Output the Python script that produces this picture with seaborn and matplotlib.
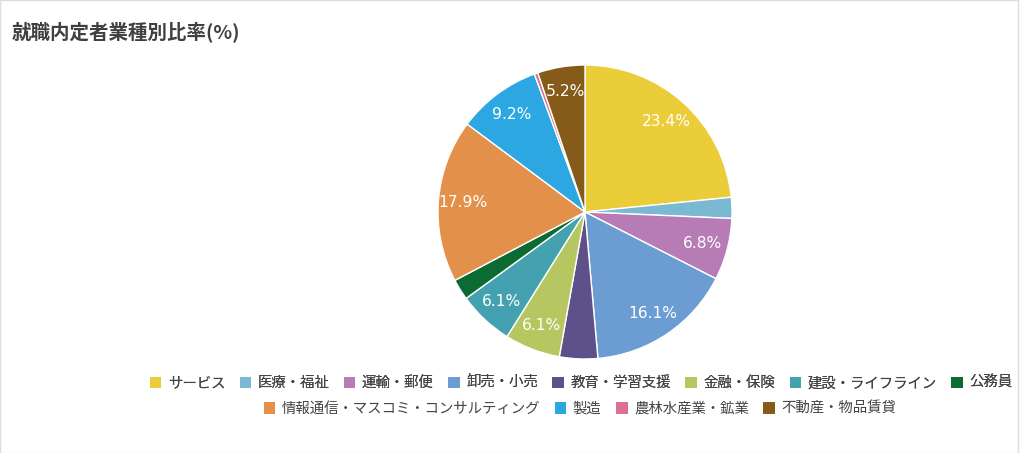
import matplotlib
matplotlib.use("Agg")
import matplotlib.pyplot as plt
import seaborn as sns
from matplotlib.patches import Patch

sns.set_theme(style="white")
plt.rcParams['font.family'] = ['Noto Sans CJK JP', 'DejaVu Sans']

categories = ["サービス", "医療・福祉", "運輸・郵便", "卸売・小売", "教育・学習支援", "金融・保険",
              "建設・ライフライン", "公務員", "情報通信・マスコミ・コンサルティング", "製造",
              "農林水産業・鉱業", "不動産・物品賃貸"]
values = [23.4, 2.3, 6.8, 16.1, 4.2, 6.1, 6.1, 2.3, 17.9, 9.2, 0.4, 5.2]
colors = ["#EBCD3A", "#7AB9D1", "#B77CB6", "#6B9CD2", "#5E5089", "#B6C660",
          "#44A1AF", "#0B6B32", "#E2904A", "#2CA7E1", "#DC7090", "#865A18"]

fig = plt.figure(figsize=(10.24, 4.53), dpi=100)
fig.patch.set_facecolor("white")

ax = fig.add_axes([438/1024, 94/453, 294/1024, 294/453])
wedges, texts, autotexts = ax.pie(
    values, colors=colors, startangle=90, counterclock=False,
    autopct=lambda p: f"{p:.1f}%" if p >= 5 else "", pctdistance=0.83,
    wedgeprops=dict(edgecolor="white", linewidth=1),
    textprops=dict(color="white", fontsize=11.2, family="DejaVu Sans"))
ax.set_xlim(-1, 1)
ax.set_ylim(-1, 1)
ax.set_aspect("equal")
ax.axis("off")

fig.text(12/1024, 1 - 32/453, "就職内定者業種別比率(%)", fontsize=14, fontweight="bold",
         color="#404040", va="center", ha="left")

handles = [Patch(facecolor=c, edgecolor="none") for c in colors]
common = dict(frameon=False, fontsize=10.4, handlelength=0.8, handleheight=0.8,
              handletextpad=0.45, columnspacing=1.0, labelcolor="#444444", loc="center")
leg1 = fig.legend(handles[:8], categories[:8], ncol=8,
                  bbox_to_anchor=(581/1024, 1 - 383/453), **common)
leg2 = fig.legend(handles[8:], categories[8:], ncol=4,
                  bbox_to_anchor=(580/1024, 1 - 409/453), **common)
fig.add_artist(leg1)

# light frame
fig.add_artist(plt.Rectangle((0, 0), 1018/1024, 1, transform=fig.transFigure, fill=False,
                             edgecolor="#DDDDDD", linewidth=1))

fig.savefig("out.png", dpi=100)
